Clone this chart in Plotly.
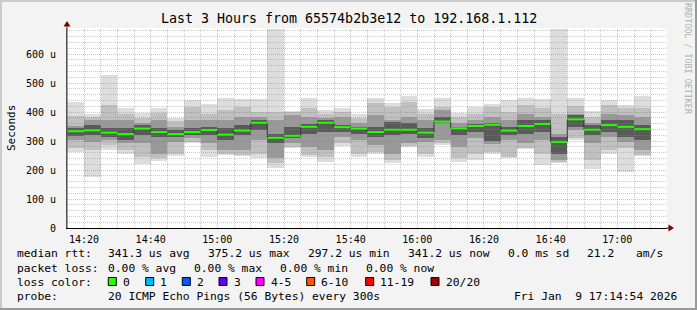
import math
import plotly.graph_objects as go
from datetime import datetime, timedelta

# ---------------- data (microseconds) ----------------
slot_start = ["14:15", "14:20", "14:25", "14:30", "14:35", "14:40", "14:45", "14:50", "14:55",
              "15:00", "15:05", "15:10", "15:15", "15:20", "15:25", "15:30", "15:35", "15:40",
              "15:45", "15:50", "15:55", "16:00", "16:05", "16:10", "16:15", "16:20", "16:25",
              "16:30", "16:35", "16:40", "16:45", "16:50", "16:55", "17:00", "17:05"]
ping_min = [263, 175, 269, 257, 221, 232, 248, 292, 246, 252, 248, 240, 206, 277, 244, 229, 283, 246,
            257, 225, 278, 246, 286, 229, 234, 257, 240, 272, 217, 225, 303, 203, 255, 194, 248]
ping_max = [436, 395, 527, 413, 398, 413, 378, 441, 428, 450, 444, 444, 688, 405, 450, 407, 413, 395,
            450, 432, 455, 409, 450, 398, 416, 428, 441, 447, 444, 686, 450, 405, 441, 424, 455]
band2_lo = [275, 269, 286, 269, 246, 240, 257, 298, 269, 257, 252, 257, 223, 280, 252, 246, 292, 257,
            263, 234, 283, 257, 294, 240, 257, 263, 246, 275, 257, 229, 309, 234, 269, 275, 252]
band2_hi = [386, 384, 424, 395, 378, 398, 370, 416, 395, 407, 418, 401, 401, 401, 413, 395, 401, 378,
            430, 418, 436, 395, 416, 384, 395, 416, 401, 424, 413, 395, 421, 384, 424, 413, 413]
band3_lo = [303, 298, 303, 292, 292, 257, 298, 309, 292, 269, 269, 303, 240, 292, 280, 269, 315, 303,
            286, 257, 292, 298, 303, 280, 309, 290, 303, 292, 303, 234, 338, 292, 315, 298, 269]
band3_hi = [352, 372, 372, 372, 361, 372, 349, 372, 372, 372, 384, 384, 372, 390, 384, 378, 384, 361,
            390, 372, 384, 372, 407, 361, 372, 384, 372, 395, 384, 326, 395, 361, 395, 390, 384]
band4_lo = [317, 321, 315, 303, 321, 315, 315, 321, 321, 303, 321, 338, 292, 309, 325, 332, 332, 326,
            315, 321, 326, 309, 361, 321, 332, 300, 321, 326, 332, 257, 349, 321, 332, 315, 303]
band4_hi = [344, 355, 344, 344, 355, 344, 338, 344, 349, 344, 355, 372, 326, 349, 360, 372, 355, 349,
            349, 367, 361, 344, 384, 349, 358, 361, 349, 372, 372, 315, 390, 355, 372, 372, 355]
median = [334, 337, 329, 324, 343, 331, 324, 331, 338, 322, 336, 363, 311, 318, 349, 363, 348, 343,
          331, 339, 339, 329, 367, 344, 352, 356, 336, 352, 359, 297, 375, 339, 355, 349, 341]

y_tick_vals = [0, 100, 200, 300, 400, 500, 600]
y_tick_text = ["0", "100 u", "200 u", "300 u", "400 u", "500 u", "600 u"]

loss_labels = ["0", "1", "2", "3", "4-5", "6-10", "11-19", "20/20"]
loss_colors = ["#26ff00", "#00b8ff", "#0059ff", "#5e00ff", "#ff00ff", "#ff5500", "#ff0000", "#a10000"]

title_text = "Last 3 Hours from 65574b2b3e12 to 192.168.1.112"

# ---------------- geometry helpers ----------------
W, H = 697, 310
L, R, T, B = 67, 30, 28, 82
PW, PH = W - L - R, H - T - B
Y_TOP = 690


def px_x(px):
    return (px - L) / PW


def px_y(py):
    return (H - B - py) / PH


day = "2026-01-09"
step = timedelta(minutes=5)
starts = [datetime.strptime(f"{day} {s}", "%Y-%m-%d %H:%M") for s in slot_start]
centers = [s + step / 2 for s in starts]
bar_w = step.total_seconds() * 1000
t_lo = datetime.strptime(f"{day} 14:14:54", "%Y-%m-%d %H:%M:%S")
t_hi = datetime.strptime(f"{day} 17:14:54", "%Y-%m-%d %H:%M:%S")
span_s = (t_hi - t_lo).total_seconds()

MONO = "DejaVu Sans Mono"

fig = go.Figure()

bands = [
    (ping_min, ping_max, "#dddddd"),
    (band2_lo, band2_hi, "#c0c0c0"),
    (band3_lo, band3_hi, "#999999"),
    (band4_lo, band4_hi, "#5a5a5a"),
]
for lo, hi, col in bands:
    fig.add_trace(go.Bar(
        x=centers, base=lo, y=[h - l for l, h in zip(lo, hi)], width=bar_w,
        marker=dict(color=col, line=dict(width=0)), showlegend=False, hoverinfo="skip"))

# stepped dark median connector
fig.add_trace(go.Scatter(
    x=starts + [starts[-1] + step], y=median + [median[-1]], mode="lines",
    line=dict(color="#202020", width=1, shape="hv"), showlegend=False, hoverinfo="skip"))

# green median segments (loss 0)
gx, gy = [], []
for s, m in zip(starts, median):
    gx += [s, s + step, None]
    gy += [m, m, None]
fig.add_trace(go.Scatter(x=gx, y=gy, mode="lines", line=dict(color=loss_colors[0], width=2),
                         showlegend=False, hoverinfo="skip"))

fig.update_layout(
    width=W, height=H, autosize=False,
    margin=dict(l=L, r=R, t=T, b=B, pad=0),
    paper_bgcolor="#f3f3f3", plot_bgcolor="#ffffff",
    barmode="overlay", bargap=0,
    font=dict(family=MONO, size=10, color="#000000"),
    showlegend=False,
)

fig.update_xaxes(
    type="date", range=[t_lo, t_hi],
    tick0=f"{day} 14:20", dtick=20 * 60 * 1000, tickformat="%H:%M",
    showgrid=False, showline=True, linecolor="#000000", linewidth=1,
    ticks="", tickfont=dict(family=MONO, size=10), ticklabelstandoff=2,
    zeroline=False, fixedrange=True,
)
fig.update_yaxes(
    range=[0, Y_TOP], tickvals=y_tick_vals, ticktext=y_tick_text,
    showgrid=False, showline=True, linecolor="#555555", linewidth=1,
    ticks="", tickfont=dict(family=MONO, size=10), ticklabelstandoff=8,
    zeroline=False, fixedrange=True,
)

shapes = []
MINOR = "rgba(140,140,140,0.45)"
MAJOR = "rgba(255,40,40,0.38)"
DASH = "1px,1px"


def snap_x(t):
    # move grid line onto a pixel centre so it renders crisp (rrdtool-like)
    p = (t - t_lo).total_seconds() / span_s * PW
    p = math.floor(p) + 0.5
    return t_lo + timedelta(seconds=p / PW * span_s)


def snap_y(v):
    p = v / Y_TOP * PH
    p = math.floor(p) + 0.5
    return p / PH * Y_TOP


# grid drawn on top of the smoke, like rrdtool
t = starts[0]
while t < t_hi:
    major = (t.minute % 20 == 0)
    xs = snap_x(t)
    shapes.append(dict(type="line", xref="x", yref="paper", x0=xs, x1=xs, y0=0, y1=1, layer="above",
                       line=dict(color=MAJOR if major else MINOR, width=1, dash=DASH)))
    t += step
for v in range(20, Y_TOP, 20):
    major = (v % 100 == 0)
    ys = snap_y(v)
    shapes.append(dict(type="line", xref="paper", yref="y", x0=0, x1=1, y0=ys, y1=ys, layer="above",
                       line=dict(color=MAJOR if major else MINOR, width=1, dash=DASH)))

ann = []


def text(px, py, s, size=11.3, color="#000000", anchor="left", angle=0):
    ann.append(dict(x=px_x(px), y=px_y(py), xref="paper", yref="paper", text=s, showarrow=False,
                    xanchor=anchor, yanchor="middle", textangle=angle, borderpad=0,
                    font=dict(family=MONO, size=size, color=color)))


def nb(s):
    return s.replace(" ", "&nbsp;")


text(348.5, 18.5, title_text, size=13.3, anchor="center")
text(11, 128, "Seconds", size=11, anchor="center", angle=-90)
text(688, 59, "RRDTOOL / TOBI OETIKER", size=8.4, color="#b0b0b0", anchor="center", angle=90)

# legend rows
row1 = [("median rtt:", 16), ("341.3 us avg", 107.3), ("375.2 us max", 207.3), ("297.2 us min", 306.7),
        ("341.2 us now", 407.3), ("0.0 ms sd", 507), ("21.2", 586), ("am/s", 635)]
row2 = [("packet loss:", 16), ("0.00 % avg", 107.3), ("0.00 % max", 193.3), ("0.00 % min", 279.3),
        ("0.00 % now", 365)]
row4 = [("probe:", 16), ("20 ICMP Echo Pings (56 Bytes) every 300s", 107.3),
        ("Fri Jan  9 17:14:54 2026", 513.3)]
for s, x in row1:
    text(x, 253.5, nb(s))
for s, x in row2:
    text(x, 268, nb(s))
for s, x in row4:
    text(x, 296, nb(s))
text(16, 282, nb("loss color:"))

box_x = [108.3, 145.7, 182.3, 219, 256, 306.7, 365.7, 431]
for bx, lab, col in zip(box_x, loss_labels, loss_colors):
    shapes.append(dict(type="rect", xref="paper", yref="paper",
                       x0=px_x(bx), x1=px_x(bx + 8), y0=px_y(285.5), y1=px_y(277.5),
                       fillcolor=col, line=dict(color="#000000", width=1)))
    text(bx + 13.5, 282, lab)

# axis extension + arrows
shapes.append(dict(type="line", xref="paper", yref="paper", x0=px_x(67), x1=px_x(67),
                   y0=px_y(228), y1=px_y(24), line=dict(color="#555555", width=1)))
shapes.append(dict(type="line", xref="paper", yref="paper", x0=px_x(667), x1=px_x(670),
                   y0=px_y(228), y1=px_y(228), line=dict(color="#000000", width=1)))
shapes.append(dict(type="path", xref="paper", yref="paper",
                   path=f"M {px_x(67)},{px_y(21)} L {px_x(63.5)},{px_y(26.5)} L {px_x(70.5)},{px_y(26.5)} Z",
                   fillcolor="#7f0000", line=dict(width=0)))
shapes.append(dict(type="path", xref="paper", yref="paper",
                   path=f"M {px_x(674)},{px_y(228)} L {px_x(668.5)},{px_y(224.5)} L {px_x(668.5)},{px_y(231.5)} Z",
                   fillcolor="#7f0000", line=dict(width=0)))
# frame shading
shapes += [
    dict(type="line", xref="paper", yref="paper", x0=px_x(0), x1=px_x(W), y0=px_y(1), y1=px_y(1),
         line=dict(color="#cbcbcb", width=2)),
    dict(type="line", xref="paper", yref="paper", x0=px_x(1), x1=px_x(1), y0=px_y(0), y1=px_y(H),
         line=dict(color="#cbcbcb", width=2)),
    dict(type="line", xref="paper", yref="paper", x0=px_x(0), x1=px_x(W), y0=px_y(H - 1), y1=px_y(H - 1),
         line=dict(color="#999999", width=2)),
    dict(type="line", xref="paper", yref="paper", x0=px_x(W - 1), x1=px_x(W - 1), y0=px_y(0), y1=px_y(H),
         line=dict(color="#999999", width=2)),
]

fig.update_layout(annotations=ann, shapes=shapes)
fig.write_html("out.html")
